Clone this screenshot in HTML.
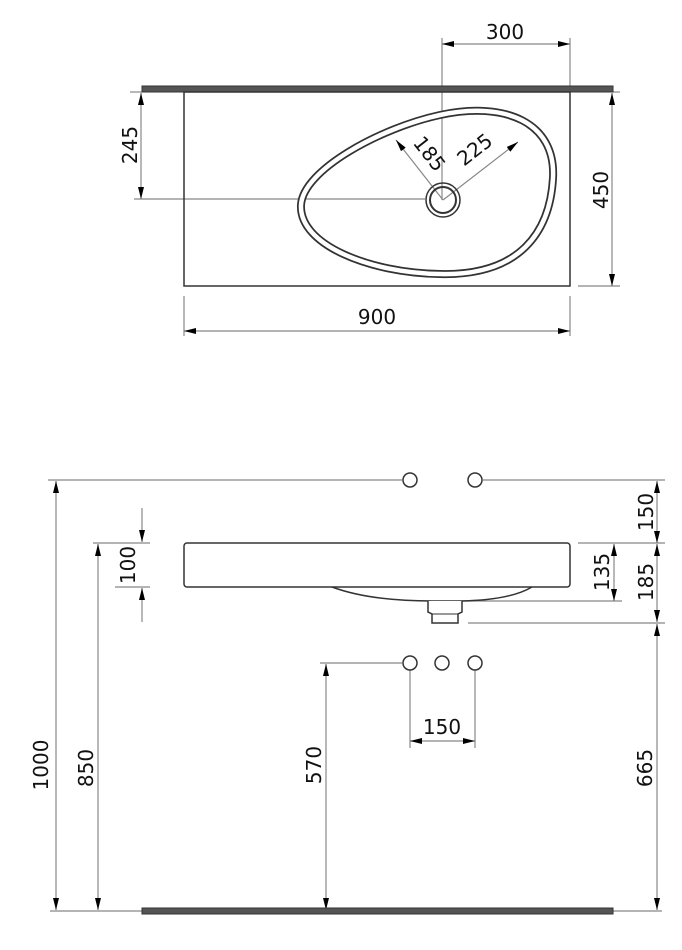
<!DOCTYPE html>
<html><head><meta charset="utf-8"><style>
html,body{margin:0;padding:0;background:#fff;}
svg{display:block;}
text{font-family:"DejaVu Sans","Liberation Sans",sans-serif;font-size:20px;fill:#111;}
</style></head><body>
<svg width="682" height="950" viewBox="0 0 682 950" xmlns="http://www.w3.org/2000/svg">
<defs>
<marker id="a" viewBox="0 0 12 12" refX="12" refY="6" markerWidth="12" markerHeight="12" orient="auto-start-reverse" markerUnits="userSpaceOnUse" preserveAspectRatio="none"><path d="M0,3 L12,6 L0,9 Z" fill="#000"/></marker>
</defs>
<g stroke="#888" stroke-width="1.2" fill="none">
<line x1="442" y1="38" x2="442" y2="200"/>
<line x1="570" y1="38" x2="570" y2="87"/>
<line x1="134" y1="199" x2="425" y2="199"/>
<line x1="578" y1="286" x2="620" y2="286"/>
<line x1="184" y1="296" x2="184" y2="336"/>
<line x1="570" y1="296" x2="570" y2="336"/>
<line x1="130" y1="92" x2="142" y2="92"/>
<line x1="613" y1="92" x2="620" y2="92"/>
<line x1="442" y1="44" x2="570" y2="44" marker-start="url(#a)" marker-end="url(#a)"/>
<line x1="141" y1="93" x2="141" y2="199" marker-start="url(#a)" marker-end="url(#a)"/>
<line x1="612" y1="93" x2="612" y2="286" marker-start="url(#a)" marker-end="url(#a)"/>
<line x1="184" y1="331" x2="570" y2="331" marker-start="url(#a)" marker-end="url(#a)"/>
<line x1="443" y1="200" x2="396" y2="140" marker-end="url(#a)"/>
<line x1="443" y1="200" x2="518" y2="142" marker-end="url(#a)"/>
</g>
<rect x="142" y="86" width="471" height="6" fill="#555" stroke="#333" stroke-width="1"/>
<rect x="184" y="92" width="386" height="194" fill="none" stroke="#333" stroke-width="1.5"/>
<path d="M301,205 C303,170 380,128 440,115 C505,101 556,122 553,178 C550,232 520,276 440,274 C370,273 299,245 301,205Z" fill="none" stroke="#333" stroke-width="8"/>
<path d="M301,205 C303,170 380,128 440,115 C505,101 556,122 553,178 C550,232 520,276 440,274 C370,273 299,245 301,205Z" fill="none" stroke="#fff" stroke-width="4.5"/>
<circle cx="443" cy="200" r="17" fill="none" stroke="#333" stroke-width="1.5"/>
<circle cx="443" cy="200" r="13" fill="none" stroke="#333" stroke-width="2"/>
<text x="505" y="39" text-anchor="middle">300</text>
<text x="377" y="324" text-anchor="middle">900</text>
<text transform="translate(137,145) rotate(-90)" text-anchor="middle">245</text>
<text transform="translate(608,190) rotate(-90)" text-anchor="middle">450</text>
<text transform="translate(424,158) rotate(52)" text-anchor="middle">185</text>
<text transform="translate(479,155) rotate(-38)" text-anchor="middle">225</text>

<g stroke="#888" stroke-width="1.2" fill="none">
<line x1="48" y1="480" x2="402" y2="480"/>
<line x1="483" y1="480" x2="665" y2="480"/>
<line x1="93" y1="543" x2="150" y2="543"/>
<line x1="578" y1="543" x2="665" y2="543"/>
<line x1="115" y1="587" x2="150" y2="587"/>
<line x1="460" y1="601" x2="622" y2="601"/>
<line x1="468" y1="623" x2="665" y2="623"/>
<line x1="320" y1="663" x2="402" y2="663"/>
<line x1="410" y1="670" x2="410" y2="748"/>
<line x1="475" y1="670" x2="475" y2="748"/>
<line x1="50" y1="911" x2="142" y2="911"/>
<line x1="613" y1="911" x2="662" y2="911"/>
<line x1="56" y1="481" x2="56" y2="910" marker-start="url(#a)" marker-end="url(#a)"/>
<line x1="98" y1="544" x2="98" y2="910" marker-start="url(#a)" marker-end="url(#a)"/>
<line x1="142" y1="508" x2="142" y2="542" marker-end="url(#a)"/>
<line x1="142" y1="622" x2="142" y2="588" marker-end="url(#a)"/>
<line x1="614" y1="544" x2="614" y2="601" marker-start="url(#a)" marker-end="url(#a)"/>
<line x1="657" y1="481" x2="657" y2="543" marker-start="url(#a)" marker-end="url(#a)"/>
<line x1="657" y1="544" x2="657" y2="622" marker-start="url(#a)" marker-end="url(#a)"/>
<line x1="657" y1="624" x2="657" y2="910" marker-start="url(#a)" marker-end="url(#a)"/>
<line x1="326" y1="664" x2="326" y2="910" marker-start="url(#a)" marker-end="url(#a)"/>
<line x1="410" y1="741" x2="475" y2="741" marker-start="url(#a)" marker-end="url(#a)"/>
</g>
<g stroke="#333" stroke-width="1.5" fill="#fff">
<circle cx="410" cy="480" r="7"/>
<circle cx="475" cy="480" r="7"/>
<circle cx="410" cy="663" r="7"/>
<circle cx="442" cy="663" r="7"/>
<circle cx="475" cy="663" r="7"/>
<rect x="184" y="543" width="386" height="44" rx="3"/>
<path d="M332,587 Q370,601 432,601 L462,601 Q510,600 532,587" fill="none"/>
<path d="M428,601 L428,612 L432,614 L432,623 L458,623 L458,614 L462,612 L462,601" fill="#fff"/>
<line x1="432" y1="614" x2="458" y2="614" stroke-width="1"/>
</g>
<rect x="142" y="908" width="471" height="6" fill="#555" stroke="#333" stroke-width="1"/>
<text transform="translate(135,565) rotate(-90)" text-anchor="middle">100</text>
<text transform="translate(609,572) rotate(-90)" text-anchor="middle">135</text>
<text transform="translate(653,512) rotate(-90)" text-anchor="middle">150</text>
<text transform="translate(653,582) rotate(-90)" text-anchor="middle">185</text>
<text transform="translate(48,765) rotate(-90)" text-anchor="middle">1000</text>
<text transform="translate(93,768) rotate(-90)" text-anchor="middle">850</text>
<text transform="translate(321,765) rotate(-90)" text-anchor="middle">570</text>
<text transform="translate(652,768) rotate(-90)" text-anchor="middle">665</text>
<text x="442" y="734" text-anchor="middle">150</text>
</svg>
</body></html>
